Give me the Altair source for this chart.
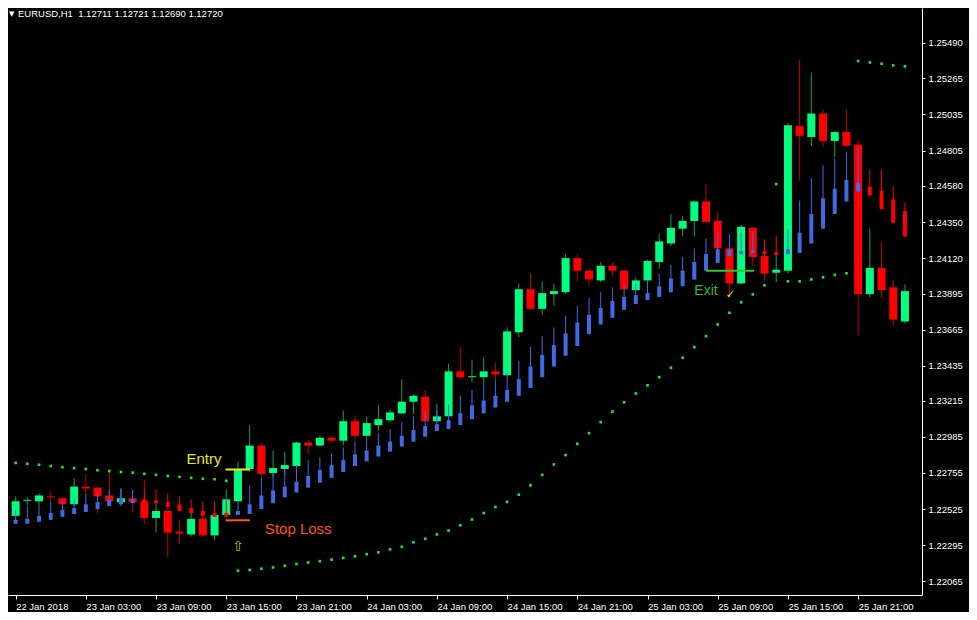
import altair as alt
import pandas as pd

# ---------------- data (EURUSD H1, bar 0 = 22 Jan 21:00) ----------------
open_ = [1.22482, 1.22578, 1.22575, 1.22606, 1.22594, 1.22556, 1.22668, 1.22662, 1.22612, 1.22569,
         1.22594, 1.22575, 1.22469, 1.22513, 1.22382, 1.22364, 1.22463, 1.22358, 1.22488, 1.22575,
         1.22780, 1.22929, 1.22755, 1.22780, 1.22799, 1.22948, 1.22929, 1.22979, 1.22960, 1.23084,
         1.22991, 1.23059, 1.23090, 1.23134, 1.23208, 1.23240, 1.23084, 1.23115, 1.23401, 1.23364,
         1.23364, 1.23401, 1.23376, 1.23649, 1.23923, 1.23798, 1.23892, 1.23904, 1.24121, 1.24041,
         1.23979, 1.24072, 1.24041, 1.23917, 1.23979, 1.24096, 1.24214, 1.24308, 1.24357, 1.24481,
         1.24357, 1.24183, 1.23960, 1.24314, 1.24134, 1.24028, 1.24041, 1.24960, 1.24891, 1.25040,
         1.24866, 1.24922, 1.24842, 1.23892, 1.24059, 1.23935, 1.23718]
high = [1.22606, 1.22600, 1.22625, 1.22637, 1.22600, 1.22724, 1.22749, 1.22668, 1.22761, 1.22656,
        1.22650, 1.22712, 1.22569, 1.22575, 1.22457, 1.22513, 1.22500, 1.22500, 1.22650, 1.22829,
        1.23059, 1.22941, 1.22897, 1.22891, 1.22954, 1.22966, 1.22991, 1.22991, 1.23152, 1.23121,
        1.23115, 1.23184, 1.23159, 1.23351, 1.23252, 1.23283, 1.23196, 1.23450, 1.23556, 1.23475,
        1.23488, 1.23457, 1.23680, 1.23960, 1.24022, 1.23973, 1.23960, 1.24146, 1.24146, 1.24053,
        1.24096, 1.24096, 1.24047, 1.23998, 1.24109, 1.24276, 1.24401, 1.24388, 1.24487, 1.24593,
        1.24413, 1.24221, 1.24332, 1.24320, 1.24239, 1.24140, 1.24978, 1.25382, 1.25301, 1.25065,
        1.24929, 1.25065, 1.24873, 1.24308, 1.24221, 1.23979, 1.23954]
low = [1.22463, 1.22550, 1.22556, 1.22569, 1.22531, 1.22544, 1.22606, 1.22500, 1.22563, 1.22544,
       1.22507, 1.22432, 1.22376, 1.22221, 1.22302, 1.22351, 1.22351, 1.22327, 1.22482, 1.22569,
       1.22761, 1.22730, 1.22730, 1.22749, 1.22792, 1.22873, 1.22923, 1.22948, 1.22929, 1.22960,
       1.22979, 1.23022, 1.23078, 1.23128, 1.23128, 1.23078, 1.23078, 1.23109, 1.23358, 1.23333,
       1.23320, 1.23345, 1.23370, 1.23618, 1.23792, 1.23761, 1.23817, 1.23892, 1.23973, 1.23942,
       1.23967, 1.24004, 1.23917, 1.23911, 1.23973, 1.24053, 1.24196, 1.24258, 1.24258, 1.24345,
       1.24177, 1.23867, 1.23954, 1.24072, 1.23979, 1.23967, 1.24022, 1.24612, 1.24835, 1.24829,
       1.24761, 1.24829, 1.23631, 1.23873, 1.23867, 1.23693, 1.23705]
close = [1.22575, 1.22584, 1.22612, 1.22600, 1.22556, 1.22668, 1.22656, 1.22606, 1.22575, 1.22594,
         1.22569, 1.22469, 1.22513, 1.22376, 1.22370, 1.22463, 1.22358, 1.22488, 1.22587, 1.22773,
         1.22929, 1.22749, 1.22786, 1.22805, 1.22948, 1.22929, 1.22979, 1.22960, 1.23084, 1.22991,
         1.23072, 1.23097, 1.23140, 1.23208, 1.23246, 1.23084, 1.23115, 1.23401, 1.23364, 1.23370,
         1.23401, 1.23382, 1.23655, 1.23923, 1.23798, 1.23898, 1.23911, 1.24121, 1.24041, 1.23985,
         1.24072, 1.24041, 1.23923, 1.23979, 1.24103, 1.24227, 1.24314, 1.24357, 1.24481, 1.24351,
         1.24183, 1.23960, 1.24320, 1.24128, 1.24022, 1.24047, 1.24966, 1.24898, 1.25040, 1.24866,
         1.24922, 1.24835, 1.23892, 1.24059, 1.23917, 1.23730, 1.23911]

# overlay indicator bars (blue = rising, red = falling)
ind_open = [1.22432, 1.22432, 1.22445, 1.22457, 1.22476, 1.22494, 1.22507, 1.22525, 1.22544, 1.22556,
            1.22563, 1.22587, 1.22581, 1.22569, 1.22556, 1.22531, 1.22513, 1.22500, 1.22500, 1.22488,
            1.22494, 1.22525, 1.22563, 1.22600, 1.22631, 1.22662, 1.22693, 1.22724, 1.22761, 1.22799,
            1.22829, 1.22860, 1.22891, 1.22923, 1.22954, 1.22985, 1.23022, 1.23034, 1.23059, 1.23097,
            1.23134, 1.23171, 1.23208, 1.23246, 1.23295, 1.23364, 1.23432, 1.23500, 1.23562, 1.23637,
            1.23699, 1.23742, 1.23792, 1.23829, 1.23854, 1.23873, 1.23904, 1.23942, 1.23985, 1.24041,
            1.24090, 1.24134, 1.24146, 1.24153, 1.24165, 1.24159, 1.24146, 1.24153, 1.24214, 1.24308,
            1.24401, 1.24481, 1.24544, 1.24575, 1.24550, 1.24494, 1.24420]
ind_close = [1.22457, 1.22463, 1.22482, 1.22500, 1.22519, 1.22531, 1.22556, 1.22569, 1.22581, 1.22594,
             1.22587, 1.22556, 1.22563, 1.22538, 1.22513, 1.22500, 1.22482, 1.22476, 1.22476, 1.22513,
             1.22556, 1.22612, 1.22644, 1.22668, 1.22699, 1.22736, 1.22773, 1.22805, 1.22836, 1.22873,
             1.22897, 1.22929, 1.22954, 1.22991, 1.23028, 1.23053, 1.23065, 1.23090, 1.23134, 1.23184,
             1.23215, 1.23246, 1.23283, 1.23351, 1.23432, 1.23506, 1.23568, 1.23643, 1.23711, 1.23761,
             1.23804, 1.23848, 1.23873, 1.23885, 1.23898, 1.23942, 1.23991, 1.24041, 1.24096, 1.24146,
             1.24177, 1.24171, 1.24165, 1.24171, 1.24146, 1.24140, 1.24177, 1.24283, 1.24401, 1.24500,
             1.24562, 1.24618, 1.24600, 1.24519, 1.24432, 1.24345, 1.24258]
ind_high = [1.22519, 1.22544, 1.22556, 1.22569, 1.22575, 1.22594, 1.22619, 1.22631, 1.22644, 1.22656,
            1.22650, 1.22650, 1.22650, 1.22625, 1.22606, 1.22587, 1.22575, 1.22575, 1.22581, 1.22575,
            1.22675, 1.22724, 1.22755, 1.22780, 1.22805, 1.22836, 1.22854, 1.22879, 1.22917, 1.22954,
            1.22979, 1.23010, 1.23034, 1.23078, 1.23115, 1.23146, 1.23152, 1.23190, 1.23246, 1.23283,
            1.23320, 1.23345, 1.23388, 1.23469, 1.23556, 1.23624, 1.23680, 1.23755, 1.23817, 1.23867,
            1.23904, 1.23935, 1.23954, 1.23960, 1.23979, 1.24022, 1.24078, 1.24128, 1.24183, 1.24245,
            1.24283, 1.24276, 1.24283, 1.24289, 1.24239, 1.24264, 1.24308, 1.24487, 1.24631, 1.24711,
            1.24754, 1.24798, 1.24817, 1.24686, 1.24680, 1.24575, 1.24475]

# parabolic SAR dots
sar = [1.22819, 1.22813, 1.22807, 1.22799, 1.22792, 1.22786, 1.22780, 1.22772, 1.22767, 1.22761,
       1.22757, 1.22749, 1.22743, 1.22736, 1.22730, 1.22724, 1.22718, 1.22715, 1.22705, 1.22134,
       1.22138, 1.22146, 1.22154, 1.22165, 1.22176, 1.22186, 1.22194, 1.22204, 1.22215, 1.22225,
       1.22238, 1.22250, 1.22269, 1.22285, 1.22314, 1.22337, 1.22364, 1.22389, 1.22422, 1.22459,
       1.22500, 1.22538, 1.22571, 1.22617, 1.22676, 1.22743, 1.22809, 1.22869, 1.22940, 1.23008,
       1.23078, 1.23145, 1.23204, 1.23260, 1.23312, 1.23364, 1.23424, 1.23488, 1.23555, 1.23624,
       1.23699, 1.23773, 1.23840, 1.23890, 1.23948, 1.24591, 1.23973, 1.23973, 1.23985, 1.23999,
       1.24014, 1.24024, 1.25374, 1.25365, 1.25357, 1.25346, 1.25340]

time_labels = ["22 Jan 2018", "23 Jan 03:00", "23 Jan 09:00", "23 Jan 15:00", "23 Jan 21:00",
               "24 Jan 03:00", "24 Jan 09:00", "24 Jan 15:00", "24 Jan 21:00", "25 Jan 03:00",
               "25 Jan 09:00", "25 Jan 15:00", "25 Jan 21:00"]
price_ticks = [1.22065, 1.22295, 1.22525, 1.22755, 1.22985, 1.23215, 1.23435, 1.23665,
               1.23895, 1.24120, 1.24350, 1.24580, 1.24805, 1.25035, 1.25265, 1.25490]

# trade annotations (bar index, price)
entry_price = 1.22777
stop_price = 1.22454
exit_price = 1.24041
header = "EURUSD,H1\u00a0\u00a01.12711 1.12721 1.12690 1.12720"

# ---------------- frame ----------------
n = len(open_)
df = pd.DataFrame({
    "i": list(range(n)), "open": open_, "high": high, "low": low, "close": close,
    "iopen": ind_open, "iclose": ind_close, "ihigh": ind_high, "sar": sar,
})
up = df["close"] >= df["open"]
df["body"] = ["#00ff7f" if u else "#ff0000" for u in up]
df["wick"] = ["#12a14a" if u else "#c00000" for u in up]
iup = df["iclose"] >= df["iopen"]
df["icol"] = ["#4169e1" if u else "#ff0000" for u in iup]
df["ilow"] = df[["iopen", "iclose"]].min(axis=1)

xs = alt.Scale(domain=[-0.225, 77.03], nice=False, zero=False)
ys = alt.Scale(domain=[1.21979, 1.25711], nice=False, zero=False)

label_expr = "[" + ",".join("'" + t + "'" for t in time_labels) + "][round(datum.value / 6)]"
x_axis = alt.Axis(values=list(range(0, 73, 6)), labelExpr=label_expr, orient="bottom",
                  domainColor="#ffffff", tickColor="#ffffff", tickSize=4, labelColor="#ffffff",
                  labelFont="Liberation Sans", labelFontSize=9.5, labelAlign="left",
                  labelBaseline="top", labelPadding=2, labelFlush=False, labelOverlap=False,
                  grid=False, title=None)
y_axis = alt.Axis(values=price_ticks, format=".5f", orient="right", domainColor="#ffffff",
                  tickColor="#ffffff", tickSize=3, labelColor="#ffffff", labelFont="Liberation Sans",
                  labelFontSize=9.5, labelPadding=3, labelFlush=False, labelOverlap=False,
                  grid=False, title=None)


def X(field):
    return alt.X(field, scale=xs, axis=x_axis)


def Y(field):
    return alt.Y(field, scale=ys, axis=y_axis)


base = alt.Chart(df)

wicks = base.mark_rule(strokeWidth=1, clip=True).encode(
    x=X("i:Q"), y=Y("low:Q"), y2="high:Q",
    color=alt.Color("wick:N", scale=None))
bodies = base.mark_bar(size=8, clip=True).encode(
    x=X("i:Q"), y=Y("open:Q"), y2="close:Q",
    color=alt.Color("body:N", scale=None))
iwicks = base.mark_rule(strokeWidth=1, clip=True).encode(
    x=X("i:Q"), y=Y("ilow:Q"), y2="ihigh:Q",
    color=alt.Color("icol:N", scale=None))
ibodies = base.mark_bar(size=4, clip=True).encode(
    x=X("i:Q"), y=Y("iopen:Q"), y2="iclose:Q",
    color=alt.Color("icol:N", scale=None))
sar_dots = base.mark_square(size=7, color="#22e622", opacity=1, clip=True).encode(
    x=X("i:Q"), y=Y("sar:Q"))

lines_df = pd.DataFrame({
    "x": [17.94, 17.94, 59.0], "x2": [20.02, 20.02, 63.1],
    "y": [entry_price, stop_price, exit_price],
    "c": ["#f0f000", "#ff5a1e", "#33c433"],
})
trade_lines = alt.Chart(lines_df).mark_rule(strokeWidth=2).encode(
    x=X("x:Q"), x2="x2:Q", y=Y("y:Q"), color=alt.Color("c:N", scale=None))


def label(text, xi, price, color, size, font="Liberation Sans", align="left"):
    d = pd.DataFrame({"x": [xi], "y": [price], "t": [text]})
    return alt.Chart(d).mark_text(align=align, baseline="alphabetic", font=font,
                                  fontSize=size, color=color).encode(
        x=X("x:Q"), y=Y("y:Q"), text="t:N")


entry_txt = label("Entry", 14.6, 1.22811, "#e8e81c", 15)
stop_txt = label("Stop Loss", 21.3, 1.22370, "#ff5014", 15)
exit_txt = label("Exit", 58.0, 1.23885, "#38b838", 14)
check_txt = label("\u2713", 61.07, 1.23867, "#e8e81c", 11, font="DejaVu Sans", align="center")
arrow_txt = label("\u21e7", 19.0, 1.22258, "#d8b400", 14, font="DejaVu Sans", align="center")

head_df = pd.DataFrame({"t": [header]})
head = alt.Chart(head_df).mark_text(align="left", baseline="alphabetic", font="Liberation Sans",
                                    fontSize=9.5, color="#ffffff").encode(
    x=alt.value(10), y=alt.value(9), text="t:N")
tri_df = pd.DataFrame({"t": ["\u25bc"]})
tri = alt.Chart(tri_df).mark_text(align="left", baseline="alphabetic", font="DejaVu Sans",
                                  fontSize=7, color="#ffffff").encode(
    x=alt.value(1), y=alt.value(8), text="t:N")

chart = alt.layer(
    wicks, bodies, iwicks, ibodies, sar_dots, trade_lines,
    entry_txt, stop_txt, exit_txt, check_txt, arrow_txt, head, tri
).properties(
    width=914, height=587,
    autosize=alt.AutoSizeParams(type="none"),
    padding={"left": 0, "top": 0, "right": 47, "bottom": 17},
    background="#000000",
).configure_view(strokeWidth=0, fill="#000000")

chart.save("out.html", embed_options={"renderer": "svg", "actions": False})
